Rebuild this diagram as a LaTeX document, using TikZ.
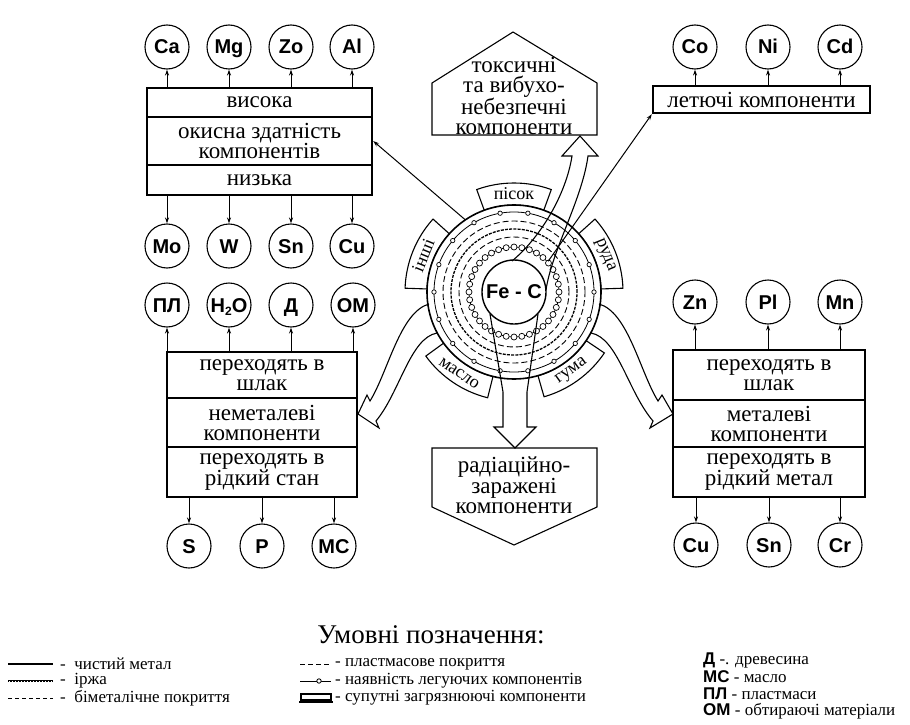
\documentclass[tikz,border=0pt]{standalone}
\usepackage{fontspec}
\setmainfont{Liberation Serif}
\setsansfont{Liberation Sans}
\usetikzlibrary{arrows.meta}
\begin{document}
\begin{tikzpicture}[x=1pt,y=-1pt,
  el/.style={circle,draw,line width=1.1pt,minimum size=44pt,inner sep=0pt,text height=14pt,text depth=0pt,
             font=\sffamily\bfseries\fontsize{20}{20}\selectfont},
  band/.style={draw,line width=1.1pt,inner sep=0pt,align=center,font=\fontsize{23}{20}\selectfont},
  thickband/.style={band,line width=2.4pt},
  conn/.style={line width=1pt,-{Stealth[length=6pt,width=4pt]}},
  hollow/.style={line width=1.1pt,line join=miter},
  tabshape/.style={draw,line width=1.1pt,fill=white},
  tabtext/.style={font=\fontsize{18}{18}\selectfont,inner sep=0pt},
  legtext/.style={anchor=west,font=\fontsize{17}{17}\selectfont,inner sep=0pt},
  abbr/.style={anchor=west,font=\fontsize{17}{17}\selectfont,inner sep=0pt},
]
\useasboundingbox (0,0) rectangle (910,725);

% ---------- top-left group ----------
\node[el] (ca) at (167,47) {Ca};
\node[el] (mg) at (229,47) {Mg};
\node[el] (zo) at (291,47) {Zo};
\node[el] (al) at (352,47) {Al};
\node[el] (mo) at (167,246) {Mo};
\node[el] (w)  at (229,246) {W};
\node[el] (sn) at (291,246) {Sn};
\node[el] (cu) at (352,246) {Cu};
\node[band,minimum width=225pt,minimum height=29pt] (tlhi) at (259.5,102.5) {висока};
\node[band,minimum width=225pt,minimum height=30pt] (tllo) at (259.5,180) {низька};
\node[thickband,minimum width=225pt,minimum height=48pt] (tlmid) at (259.5,141) {окисна здатність\\компонентів};
\foreach \n in {ca,mg,zo,al} \draw[conn] (tlhi.north -| \n) -- (\n);
\foreach \n in {mo,w,sn,cu} \draw[conn] (tllo.south -| \n) -- (\n);

% ---------- bottom-left group ----------
\node[el] (pl)  at (167,305) {ПЛ};
\node[el] (hto) at (229,305) {H\raisebox{-3pt}{\fontsize{12}{12}\selectfont 2}O};
\node[el] (d)   at (291,305) {Д};
\node[el] (om)  at (353,305) {ОМ};
\node[el] (s)   at (189,546) {S};
\node[el] (p)   at (262,546) {P};
\node[el] (ms)  at (334,546) {МС};
\node[band,minimum width=190pt,minimum height=46pt] (blhi) at (262,375) {переходять в\\шлак};
\node[band,minimum width=190pt,minimum height=50pt] (bllo) at (262,472) {переходять в\\рідкий стан};
\node[thickband,minimum width=190pt,minimum height=49pt] (blmid) at (262,422.5) {неметалеві\\компоненти};
\foreach \n in {pl,hto,d,om} \draw[conn] (blhi.north -| \n) -- (\n);
\foreach \n in {s,p,ms} \draw[conn] (bllo.south -| \n) -- (\n);

% ---------- right group ----------
\node[el] (zn)  at (695,302) {Zn};
\node[el] (plt) at (768,302) {Pl};
\node[el] (mn)  at (840,302) {Mn};
\node[el] (cur) at (696,545) {Cu};
\node[el] (snr) at (769,545) {Sn};
\node[el] (cr)  at (840,545) {Cr};
\node[band,minimum width=192pt,minimum height=50pt] (rhi) at (769,375) {переходять в\\шлак};
\node[band,minimum width=192pt,minimum height=50pt] (rlo) at (769,472) {переходять в\\рідкий метал};
\node[thickband,minimum width=192pt,minimum height=47pt] (rmid) at (769,423.5) {металеві\\компоненти};
\foreach \n in {zn,plt,mn} \draw[conn] (rhi.north -| \n) -- (\n);
\foreach \n in {cur,snr,cr} \draw[conn] (rlo.south -| \n) -- (\n);

% ---------- top-right group ----------
\node[el] (co) at (695,47) {Co};
\node[el] (ni) at (768,47) {Ni};
\node[el] (cd) at (840,47) {Cd};
\node[thickband,minimum width=217pt,minimum height=27pt] (vol) at (761.5,99.5) {летючі компоненти};
\foreach \n in {co,ni,cd} \draw[conn] (vol.north -| \n) -- (\n);

% ---------- pentagons ----------
\draw[line width=1.1pt] (432,135) -- (432,83) -- (513,32) -- (597,83) -- (597,135) -- cycle;
\node[font=\fontsize{23}{20}\selectfont,align=center,inner sep=0pt] (toxt) at (514,96) {токсичні\\та вибухо-\\небезпечні\\компоненти};
\draw[line width=1.1pt] (432,448) -- (597,448) -- (597,507) -- (514,545) -- (432,507) -- cycle;
\node[font=\fontsize{23}{19.5}\selectfont,align=center,inner sep=0pt] (radt) at (514,485) {радіаційно-\\заражені\\компоненти};

% ---------- central circle ----------
\begin{scope}[shift={(514,292)},y=1pt]
  \foreach \ang/\rot/\tabtxt in {90/0/пісок, 22/-68/руда, 158/68/інші, 236/-34/масло, 306/36/гума} {
    \draw[tabshape] ({\ang-20}:87) arc[start angle={\ang-20},end angle={\ang+20},radius=87]
      -- ({\ang+20}:109) arc[start angle={\ang+20},end angle={\ang-20},radius=109] -- cycle;
    \node[tabtext,rotate=\rot] at (\ang:98) {\tabtxt};
  }
  \fill[white] (0,0) circle[radius=87];
  \draw[line width=1.6pt] (0,0) circle[radius=87];
  \draw[line width=0.8pt] (0,0) circle[radius=80];
  \foreach \a in {0,20,...,340} \draw[line width=0.7pt,fill=white] (\a:80) circle[radius=2.2];
  \draw[line width=0.9pt,dash pattern=on 6pt off 3pt] (0,0) circle[radius=71];
  \draw[line width=1.3pt,dash pattern=on 3pt off 1.2pt] (0,0) circle[radius=63];
  \draw[line width=0.9pt,dash pattern=on 6pt off 3pt] (0,0) circle[radius=55];
  \draw[line width=0.7pt] (0,0) circle[radius=45];
  \foreach \a in {0,10,...,350} \draw[line width=0.7pt,fill=white] (\a:45) circle[radius=3];
  \node[circle,draw,line width=1.4pt,fill=white,minimum size=64pt,inner sep=0pt,
        font=\sffamily\bfseries\fontsize{20}{20}\selectfont] (fec) at (0,0) {Fe - C};
  \coordinate (p124) at (124:87);
  \coordinate (p42) at (42:46);
\end{scope}

% hollow arrow up to toxic components
\draw[hollow] (512,261) .. controls (540,238) and (566,195) .. (572,156) -- (562,156) -- (580,136)
  -- (598,156) -- (588,156) .. controls (582,200) and (552,250) .. (546,290);
% hollow arrow down to radiation components
\draw[hollow] (490,314) -- (503,392) -- (503,427) -- (494,427) -- (515,448) -- (536,427)
  -- (527,427) -- (527,392) -- (538,314);
% wavy hollow arrows
\draw[hollow] (599,304) .. controls (628,312) and (640,372) .. (658,401) -- (662,395) -- (673,414)
  -- (650,428) -- (653,421) .. controls (628,392) and (618,338) .. (591,333);
\draw[hollow] (429,304) .. controls (400,312) and (388,372) .. (370,401) -- (367,395) -- (358,414)
  -- (379,428) -- (376,421) .. controls (400,392) and (410,338) .. (437,333);

% straight connectors
\draw[conn] (p124) -- (tlmid.east);
\draw[conn] (p42) -- (vol.south west);

% ---------- legend ----------
\node[font=\fontsize{27}{27}\selectfont,inner sep=0pt] (legtitle) at (431,635) {Умовні позначення:};

\draw[line width=1.8pt] (8,664) -- (53,664);
\draw[line width=2.6pt] (8,681) -- (53,681);
\draw[white,line width=0.7pt,dash pattern=on 0.8pt off 2.2pt] (9,681) -- (52,681);
\draw[line width=1pt,dash pattern=on 4pt off 3pt] (8,698) -- (53,698);
\node[legtext] (l1) at (60,664) {-\enspace чистий метал};
\node[legtext] (l2) at (60,681) {-\enspace іржа};
\node[legtext] (l3) at (60,698) {-\enspace біметалічне покриття};

\draw[line width=1pt,dash pattern=on 5pt off 3pt] (300,664) -- (331,664);
\draw[line width=1pt] (300,681) -- (331,681);
\draw[line width=0.8pt,fill=white] (319,681) circle[radius=2.2];
\draw[line width=2pt] (301,694) rectangle (331,700);
\draw[line width=2.4pt] (299,702) -- (333,702);
\node[legtext] (m1) at (335,664) {- пластмасове покриття};
\node[legtext] (m2) at (335,681) {- наявність легуючих компонентів};
\node[legtext] (m3) at (335,698) {- супутні загрязнюючі компоненти};

\node[abbr] (r1) at (703,660) {{\sffamily\bfseries Д} -. древесина};
\node[abbr] (r2) at (703,677) {{\sffamily\bfseries МС} - масло};
\node[abbr] (r3) at (703,694) {{\sffamily\bfseries ПЛ} - пластмаси};
\node[abbr] (r4) at (703,711) {{\sffamily\bfseries ОМ} - обтираючі матеріали};
\end{tikzpicture}
\end{document}
